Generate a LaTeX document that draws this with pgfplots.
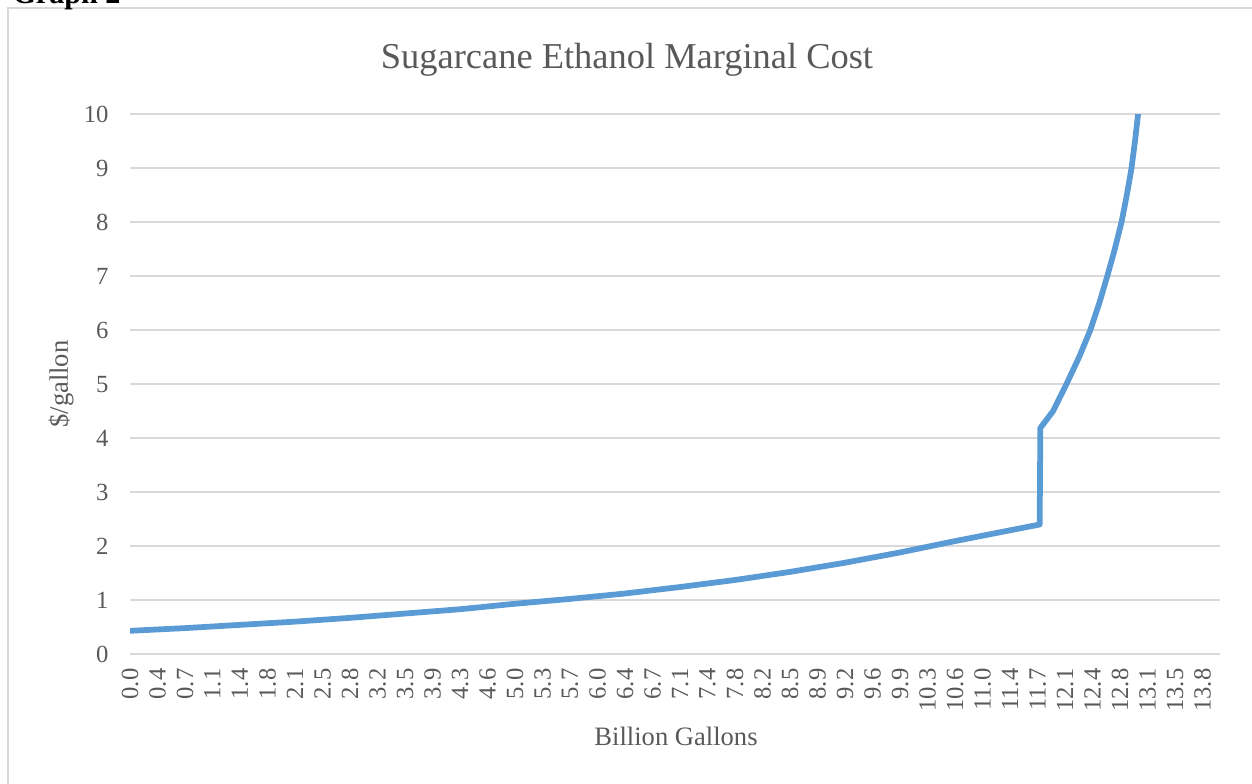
\documentclass[border=0pt]{standalone}
\usepackage{fontspec}
\setmainfont{Liberation Serif}
\usepackage{pgfplots}
\pgfplotsset{compat=1.18}
\definecolor{linecol}{HTML}{5B9BD5}
\definecolor{gridcol}{HTML}{D9D9D9}
\definecolor{txtcol}{HTML}{595959}

\begin{document}
\begin{tikzpicture}
\useasboundingbox (0pt,0pt) rectangle (456.98pt,-285.8pt);
% frame and free text, positioned in a 0.365pt grid with y pointing down
\begin{scope}[x=0.365pt,y=-0.365pt]
  \draw[gridcol, line width=0.73pt] (7.7,800) -- (7.7,8) -- (1270,8);
  \node[anchor=base west, inner sep=0pt, font=\fontsize{11}{13}\selectfont\bfseries] at (12,4) {Graph 2};
  \node[anchor=base, inner sep=0pt, text=txtcol, font=\fontsize{13.3}{16}\selectfont] at (627,68.5) {Sugarcane Ethanol Marginal Cost};
  \node[anchor=base, inner sep=0pt, text=txtcol, font=\fontsize{9.7}{12}\selectfont] at (676,745) {Billion Gallons};
  \node[rotate=90, inner sep=0pt, text=txtcol, font=\fontsize{9.7}{12}\selectfont] at (61,384) {\$/gallon};
\end{scope}
\begin{axis}[
  at={(47.45pt,-238.71pt)}, anchor=south west,
  width=397.85pt, height=196.92pt, scale only axis,
  xmin=0, xmax=14.07, ymin=0, ymax=10,
  ytick={0,1,...,10},
  xtick={0,0.355,...,13.9},
  xticklabels={0.0,0.4,0.7,1.1,1.4,1.8,2.1,2.5,2.8,3.2,3.5,3.9,4.3,4.6,5.0,5.3,5.7,6.0,6.4,6.7,7.1,7.4,7.8,8.2,8.5,8.9,9.2,9.6,9.9,10.3,10.6,11.0,11.4,11.7,12.1,12.4,12.8,13.1,13.5,13.8},
  axis line style={draw=none},
  major tick length=0pt,
  ymajorgrids,
  grid style={gridcol, line width=0.73pt},
  tick label style={font=\fontsize{9}{11}\selectfont, text=txtcol},
  /pgf/number format/assume math mode=true,
  xticklabel style={yshift=-5.1pt, rotate=90, anchor=east, inner sep=0pt},
  yticklabel style={xshift=-7.67pt, anchor=east, inner sep=0pt},
]
\addplot[linecol, line width=2.1pt, line join=round] coordinates {
  (0,0.43) (0.71,0.48) (1.42,0.54) (2.13,0.60) (2.84,0.67) (3.55,0.75)
  (4.26,0.83) (4.96,0.93) (5.67,1.02) (6.38,1.12) (7.09,1.24) (7.80,1.37)
  (8.51,1.52) (9.22,1.69) (9.93,1.88) (10.64,2.09) (11.35,2.29) (11.742,2.40)
  (11.751,4.19) (11.914,4.50) (12.087,5.00) (12.250,5.50) (12.395,6.00)
  (12.511,6.50) (12.614,7.00) (12.711,7.50) (12.798,8.00) (12.866,8.50)
  (12.927,9.00) (12.972,9.50) (13.012,10.00) (13.045,10.50) (13.09,11.3)
};
\end{axis}
\end{tikzpicture}
\end{document}
